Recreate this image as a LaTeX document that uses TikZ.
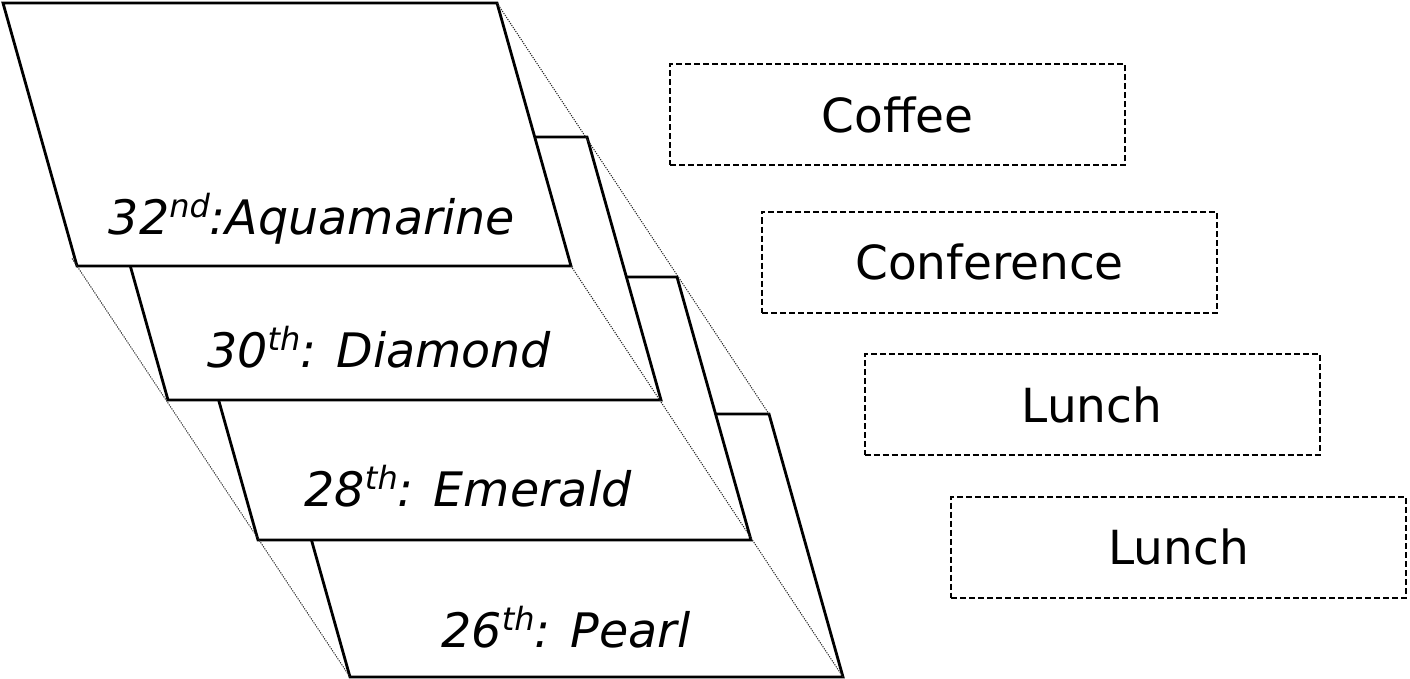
\documentclass[tikz,border=0pt]{standalone}
\usepackage{fontspec}
\setmainfont{DejaVu Sans}
\usetikzlibrary{calc}
\newcommand\ordsup[1]{\raisebox{0.36em}{\fontsize{32}{32}\selectfont\itshape #1}}
\tikzset{
  layer/.style={draw=black, fill=white, line width=2.8pt, line join=miter},
  guide/.style={draw=black!85, line width=1pt, dash pattern=on 1.2pt off 1.2pt},
  eventbox/.style={draw=black, line width=2pt, dash pattern=on 6pt off 3pt,
    minimum width=455pt, minimum height=101pt, inner sep=0pt,
    font=\fontsize{47}{56}\selectfont},
  layerlabel/.style={font=\fontsize{47.5}{56}\selectfont\itshape, inner sep=0pt}
}
\begin{document}
\begin{tikzpicture}[x=1pt,y=-1pt]
\useasboundingbox (0,0) rectangle (1410,679);
% corners of the four layers
\coordinate (aTL) at (3,3);     \coordinate (aTR) at (497,3);
\coordinate (aBR) at (571,266); \coordinate (aBL) at (77,266);
\coordinate (bTL) at (94,137);  \coordinate (bTR) at (587,137);
\coordinate (bBR) at (661,400); \coordinate (bBL) at (168,400);
\coordinate (cTL) at (184,277); \coordinate (cTR) at (677,277);
\coordinate (cBR) at (751,540); \coordinate (cBL) at (258,540);
\coordinate (dTL) at (276,414); \coordinate (dTR) at (769,414);
\coordinate (dBR) at (843,677); \coordinate (dBL) at (350,677);
% layers, back to front
\draw[layer] (dTL) -- (dTR) -- (dBR) -- (dBL) -- cycle;
\draw[layer] (cTL) -- (cTR) -- (cBR) -- (cBL) -- cycle;
\draw[layer] (bTL) -- (bTR) -- (bBR) -- (bBL) -- cycle;
\draw[layer] (aTL) -- (aTR) -- (aBR) -- (aBL) -- cycle;
% guide lines
\draw[guide] (aTR) -- (dTR);
\draw[guide] (aBR) -- (dBR);
\draw[guide, shorten <=-9pt] (aBL) -- (dBL);
% layer labels
\node[layerlabel] (la) at (312,219) {32\ordsup{nd}:Aquamarine};
\node[layerlabel] (lb) at (379,347) {30\ordsup{th}: Diamond};
\node[layerlabel] (lc) at (468,486) {28\ordsup{th}: Emerald};
\node[layerlabel] (ld) at (566,627) {26\ordsup{th}: Pearl};
% event boxes
\node[eventbox] (coffee) at (897.5,115) {Coffee};
\node[eventbox] (conf) at (989.5,262) {Conference};
\node[eventbox] (lunch1) at (1092,404.5) {Lunch};
\node[eventbox] (lunch2) at (1178.5,547) {Lunch};
\end{tikzpicture}
\end{document}
